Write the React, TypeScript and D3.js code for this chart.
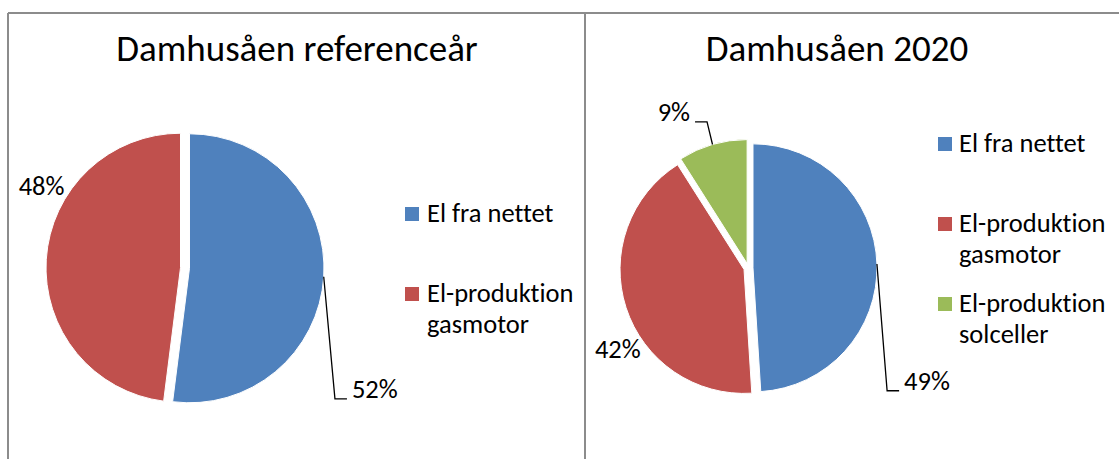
import React from "react";
import * as d3 from "d3";

// ---------- data ----------
const refTitle = "Damhusåen referenceår";
const refCategories = ["El fra nettet", "El-produktion gasmotor"];
const refValues = [52, 48];

const title2020 = "Damhusåen 2020";
const categories2020 = ["El fra nettet", "El-produktion gasmotor", "El-produktion solceller"];
const values2020 = [49, 42, 9];

const sliceColors = ["#4F81BD", "#C0504D", "#9BBB59"];

// ---------- layout ----------
const W = 1119;
const H = 459;
const FONT = "Carlito, Calibri, Lato, 'Open Sans', sans-serif";
const TITLE_SIZE = 37;
const TEXT_SIZE = 26.5;
const BORDER = "#8c8c8c";
const TEXT_STYLE = { fontVariantLigatures: "none", fontFeatureSettings: "'liga' 0, 'clig' 0" } as React.CSSProperties;

type LabelSpec = { angle: number; rf: number; leader: boolean };

const panels = [
  {
    title: refTitle,
    titleX: 297,
    categories: refCategories,
    values: refValues,
    cx: 185,
    cy: 268,
    r: 134.5,
    explode: 4.5,
    labels: [
      { angle: 131.9, rf: 1.453, leader: true },
      { angle: 300.6, rf: 1.2, leader: false },
    ] as LabelSpec[],
    legendSquareX: 405,
    legendTextX: 427,
    legendFirstBaseline: 222,
  },
  {
    title: title2020,
    titleX: 837,
    categories: categories2020,
    values: values2020,
    cx: 748.4,
    cy: 268,
    r: 124,
    explode: 4.6,
    labels: [
      { angle: 132.5, rf: 1.467, leader: true },
      { angle: 238, rf: 1.2, leader: false },
      { angle: 344.2, rf: 1.187, leader: true },
    ] as LabelSpec[],
    legendSquareX: 938,
    legendTextX: 959,
    legendFirstBaseline: 152,
  },
];

const LEGEND_STEP = 80;
const LEGEND_LINE = 31;
const SQUARE = 14;

function wrapLegend(name: string): string[] {
  const i = name.indexOf(" ");
  if (name.startsWith("El-") && i > 0) return [name.slice(0, i), name.slice(i + 1)];
  return [name];
}

function Panel({ p }: { p: (typeof panels)[number] }) {
  const pie = d3.pie<number>().sort(null).value((d) => d).startAngle(0).endAngle(2 * Math.PI);
  const arcs = pie(p.values);
  const arc = d3.arc<d3.PieArcDatum<number>>().innerRadius(0).outerRadius(p.r);
  const total = d3.sum(p.values);
  const fmt = (v: number) => `${Math.round((v / total) * 100)}%`;
  const rad = (deg: number) => (deg * Math.PI) / 180;

  return (
    <g>
      <text
        x={p.titleX}
        y={61}
        textAnchor="middle"
        fontFamily={FONT}
        fontSize={TITLE_SIZE}
        fill="#000"
        style={TEXT_STYLE}
      >
        {p.title}
      </text>
      {arcs.map((a, i) => {
        const mid = (a.startAngle + a.endAngle) / 2;
        const ox = p.cx + Math.sin(mid) * p.explode;
        const oy = p.cy - Math.cos(mid) * p.explode;
        return (
          <path
            key={i}
            d={arc(a) || ""}
            transform={`translate(${ox},${oy})`}
            fill={sliceColors[i]}
            stroke="#fff"
            strokeWidth={1}
          />
        );
      })}
      {arcs.map((a, i) => {
        const mid = (a.startAngle + a.endAngle) / 2;
        const ox = p.cx + Math.sin(mid) * p.explode;
        const oy = p.cy - Math.cos(mid) * p.explode;
        const spec = p.labels[i];
        const lx = ox + Math.sin(rad(spec.angle)) * p.r * spec.rf;
        const ly = oy - Math.cos(rad(spec.angle)) * p.r * spec.rf;
        const label = fmt(a.data);
        if (!spec.leader) {
          return (
            <text
              key={i}
              x={lx}
              y={ly}
              dy="0.35em"
              textAnchor="middle"
              fontFamily={FONT}
              fontSize={TEXT_SIZE}
              fill="#000"
              style={TEXT_STYLE}
            >
              {label}
            </text>
          );
        }
        const sx = ox + Math.sin(mid) * p.r;
        const sy = oy - Math.cos(mid) * p.r;
        const right = lx > ox;
        const hx = lx + (right ? 12 : -12);
        const tx = hx + (right ? 5 : -5);
        return (
          <g key={i}>
            <polyline
              points={`${sx},${sy} ${lx},${ly} ${hx},${ly}`}
              fill="none"
              stroke="#000"
              strokeWidth={1.3}
            />
            <text
              x={tx}
              y={ly - 1}
              textAnchor={right ? "start" : "end"}
              fontFamily={FONT}
              fontSize={TEXT_SIZE}
              fill="#000"
              style={TEXT_STYLE}
            >
              {label}
            </text>
          </g>
        );
      })}
      {p.categories.map((c, i) => {
        const base = p.legendFirstBaseline + i * LEGEND_STEP;
        const lines = wrapLegend(c);
        return (
          <g key={c}>
            <rect
              x={p.legendSquareX}
              y={base - 15}
              width={SQUARE}
              height={SQUARE}
              fill={sliceColors[i]}
            />
            <text fontFamily={FONT} fontSize={TEXT_SIZE} fill="#000" style={TEXT_STYLE}>
              {lines.map((l, j) => (
                <tspan key={j} x={p.legendTextX} y={base + j * LEGEND_LINE}>
                  {l}
                </tspan>
              ))}
            </text>
          </g>
        );
      })}
    </g>
  );
}

export default function App() {
  return (
    <svg
      width={W}
      height={H}
      style={{ position: "absolute", left: 0, top: 0, background: "#fff" }}
    >
      <rect x={0} y={0} width={W} height={H} fill="#fff" />
      <line x1={8} y1={13} x2={W} y2={13} stroke={BORDER} strokeWidth={2} />
      <line x1={8} y1={13} x2={8} y2={H} stroke={BORDER} strokeWidth={2} />
      <line x1={585} y1={13} x2={585} y2={H} stroke={BORDER} strokeWidth={2} />
      {panels.map((p, i) => (
        <Panel key={i} p={p} />
      ))}
    </svg>
  );
}
